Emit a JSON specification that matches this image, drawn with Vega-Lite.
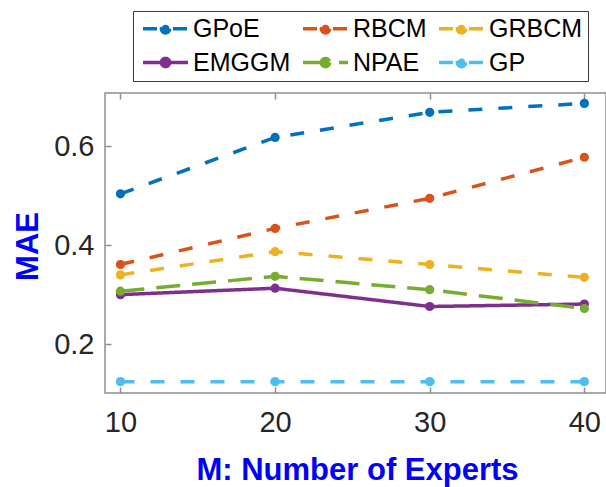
{
  "$schema": "https://vega.github.io/schema/vega-lite/v6.json",
  "width": 501,
  "height": 300,
  "autosize": {"type": "none"},
  "padding": {"left": 105, "top": 93, "right": 0, "bottom": 94},
  "background": "white",
  "config": {
    "view": {"stroke": "#8f8f8f", "strokeWidth": 1.5},
    "font": "Liberation Sans"
  },
  "data": {
    "values": [
      {"M": 10, "MAE": 0.504, "series": "GPoE"},
      {"M": 20, "MAE": 0.618, "series": "GPoE"},
      {"M": 30, "MAE": 0.669, "series": "GPoE"},
      {"M": 40, "MAE": 0.687, "series": "GPoE"},
      {"M": 10, "MAE": 0.361, "series": "RBCM"},
      {"M": 20, "MAE": 0.434, "series": "RBCM"},
      {"M": 30, "MAE": 0.495, "series": "RBCM"},
      {"M": 40, "MAE": 0.578, "series": "RBCM"},
      {"M": 10, "MAE": 0.340, "series": "GRBCM"},
      {"M": 20, "MAE": 0.387, "series": "GRBCM"},
      {"M": 30, "MAE": 0.361, "series": "GRBCM"},
      {"M": 40, "MAE": 0.335, "series": "GRBCM"},
      {"M": 10, "MAE": 0.300, "series": "EMGGM"},
      {"M": 20, "MAE": 0.313, "series": "EMGGM"},
      {"M": 30, "MAE": 0.276, "series": "EMGGM"},
      {"M": 40, "MAE": 0.281, "series": "EMGGM"},
      {"M": 10, "MAE": 0.307, "series": "NPAE"},
      {"M": 20, "MAE": 0.337, "series": "NPAE"},
      {"M": 30, "MAE": 0.310, "series": "NPAE"},
      {"M": 40, "MAE": 0.272, "series": "NPAE"},
      {"M": 10, "MAE": 0.124, "series": "GP"},
      {"M": 20, "MAE": 0.124, "series": "GP"},
      {"M": 30, "MAE": 0.124, "series": "GP"},
      {"M": 40, "MAE": 0.124, "series": "GP"}
    ]
  },
  "resolve": {"axis": {"x": "independent"}},
  "layer": [
    {
      "mark": {"type": "line", "strokeCap": "butt"},
      "encoding": {
        "x": {
          "field": "M", "type": "quantitative",
          "scale": {"domain": [9, 41.4], "nice": false, "zero": false},
          "axis": {
            "orient": "bottom",
            "values": [10, 20, 30, 40],
            "grid": false,
            "domain": false,
            "tickSize": -6,
            "tickColor": "#8f8f8f",
            "tickWidth": 1.5,
            "labelPadding": 21,
            "labelFontSize": 29,
            "labelColor": "#262626",
            "labelFont": "Liberation Sans",
            "title": "M: Number of Experts",
            "titleFont": "Liberation Sans",
            "titleFontSize": 31,
            "titleFontWeight": "bold",
            "titleColor": "#0000FF",
            "titleBaseline": "alphabetic",
            "titleAnchor": "middle",
            "titleX": 252,
            "titleY": 86
          }
        },
        "y": {
          "field": "MAE", "type": "quantitative",
          "scale": {"domain": [0.101, 0.708], "nice": false, "zero": false},
          "axis": {
            "orient": "left",
            "values": [0.2, 0.4, 0.6],
            "format": ".1f",
            "grid": false,
            "domain": false,
            "tickSize": -6,
            "tickColor": "#8f8f8f",
            "tickWidth": 1.5,
            "labelPadding": 17,
            "labelFontSize": 29,
            "labelColor": "#262626",
            "labelFont": "Liberation Sans",
            "title": "MAE",
            "titleFont": "Liberation Sans",
            "titleFontSize": 31,
            "titleFontWeight": "bold",
            "titleColor": "#0000FF",
            "titleAngle": -90,
            "titleBaseline": "middle",
            "titleAnchor": "middle",
            "titleX": -77,
            "titleY": 153
          }
        },
        "color": {
          "field": "series", "type": "nominal",
          "scale": {
            "domain": ["GPoE", "RBCM", "GRBCM", "EMGGM", "NPAE", "GP"],
            "range": ["#0072BD", "#D95319", "#EDB120", "#7E2F8E", "#77AC30", "#4DBEEE"]
          },
          "legend": {
            "title": null,
            "orient": "none",
            "direction": "horizontal",
            "legendX": 28,
            "legendY": -82,
            "columns": 3,
            "columnPadding": 5,
            "rowPadding": 8,
            "gridAlign": "each",
            "padding": 5,
            "strokeColor": "#3a3a3a",
            "fillColor": "white",
            "labelFont": "Liberation Sans",
            "labelFontSize": 25,
            "labelColor": "#000000",
            "labelOffset": 30,
            "labelLimit": 300,
            "symbolType": "M-1,0H5M2.55,0A0.55,0.55,0,1,1,1.45,0A0.55,0.55,0,1,1,2.55,0Z",
            "symbolSize": 225,
            "symbolStrokeWidth": 3.5,
            "encode": {
              "symbols": {
                "update": {
                  "fill": {"scale": "color", "field": "value"},
                  "fillOpacity": {"value": 1},
                  "opacity": {"value": 1}
                }
              }
            }
          }
        },
        "strokeDash": {
          "field": "series", "type": "nominal",
          "scale": {
            "domain": ["GPoE", "RBCM", "GRBCM", "EMGGM", "NPAE", "GP"],
            "range": [[14, 16], [14, 16], [14, 16], [1, 0], [24, 12], [14, 16]]
          }
        },
        "strokeWidth": {
          "field": "series", "type": "nominal",
          "scale": {
            "domain": ["GPoE", "RBCM", "GRBCM", "EMGGM", "NPAE", "GP"],
            "range": [3.5, 3.5, 3.5, 3.5, 4.5, 3.5]
          },
          "legend": null
        }
      }
    },
    {
      "mark": {"type": "point", "filled": true, "size": 85, "opacity": 1},
      "encoding": {
        "x": {
          "field": "M", "type": "quantitative",
          "axis": {
            "orient": "top",
            "values": [10, 20, 30, 40],
            "grid": false,
            "domain": false,
            "labels": false,
            "tickSize": -6,
            "tickColor": "#8f8f8f",
            "tickWidth": 1.5,
            "title": null
          }
        },
        "y": {"field": "MAE", "type": "quantitative"},
        "color": {"field": "series", "type": "nominal", "legend": null}
      }
    }
  ]
}
